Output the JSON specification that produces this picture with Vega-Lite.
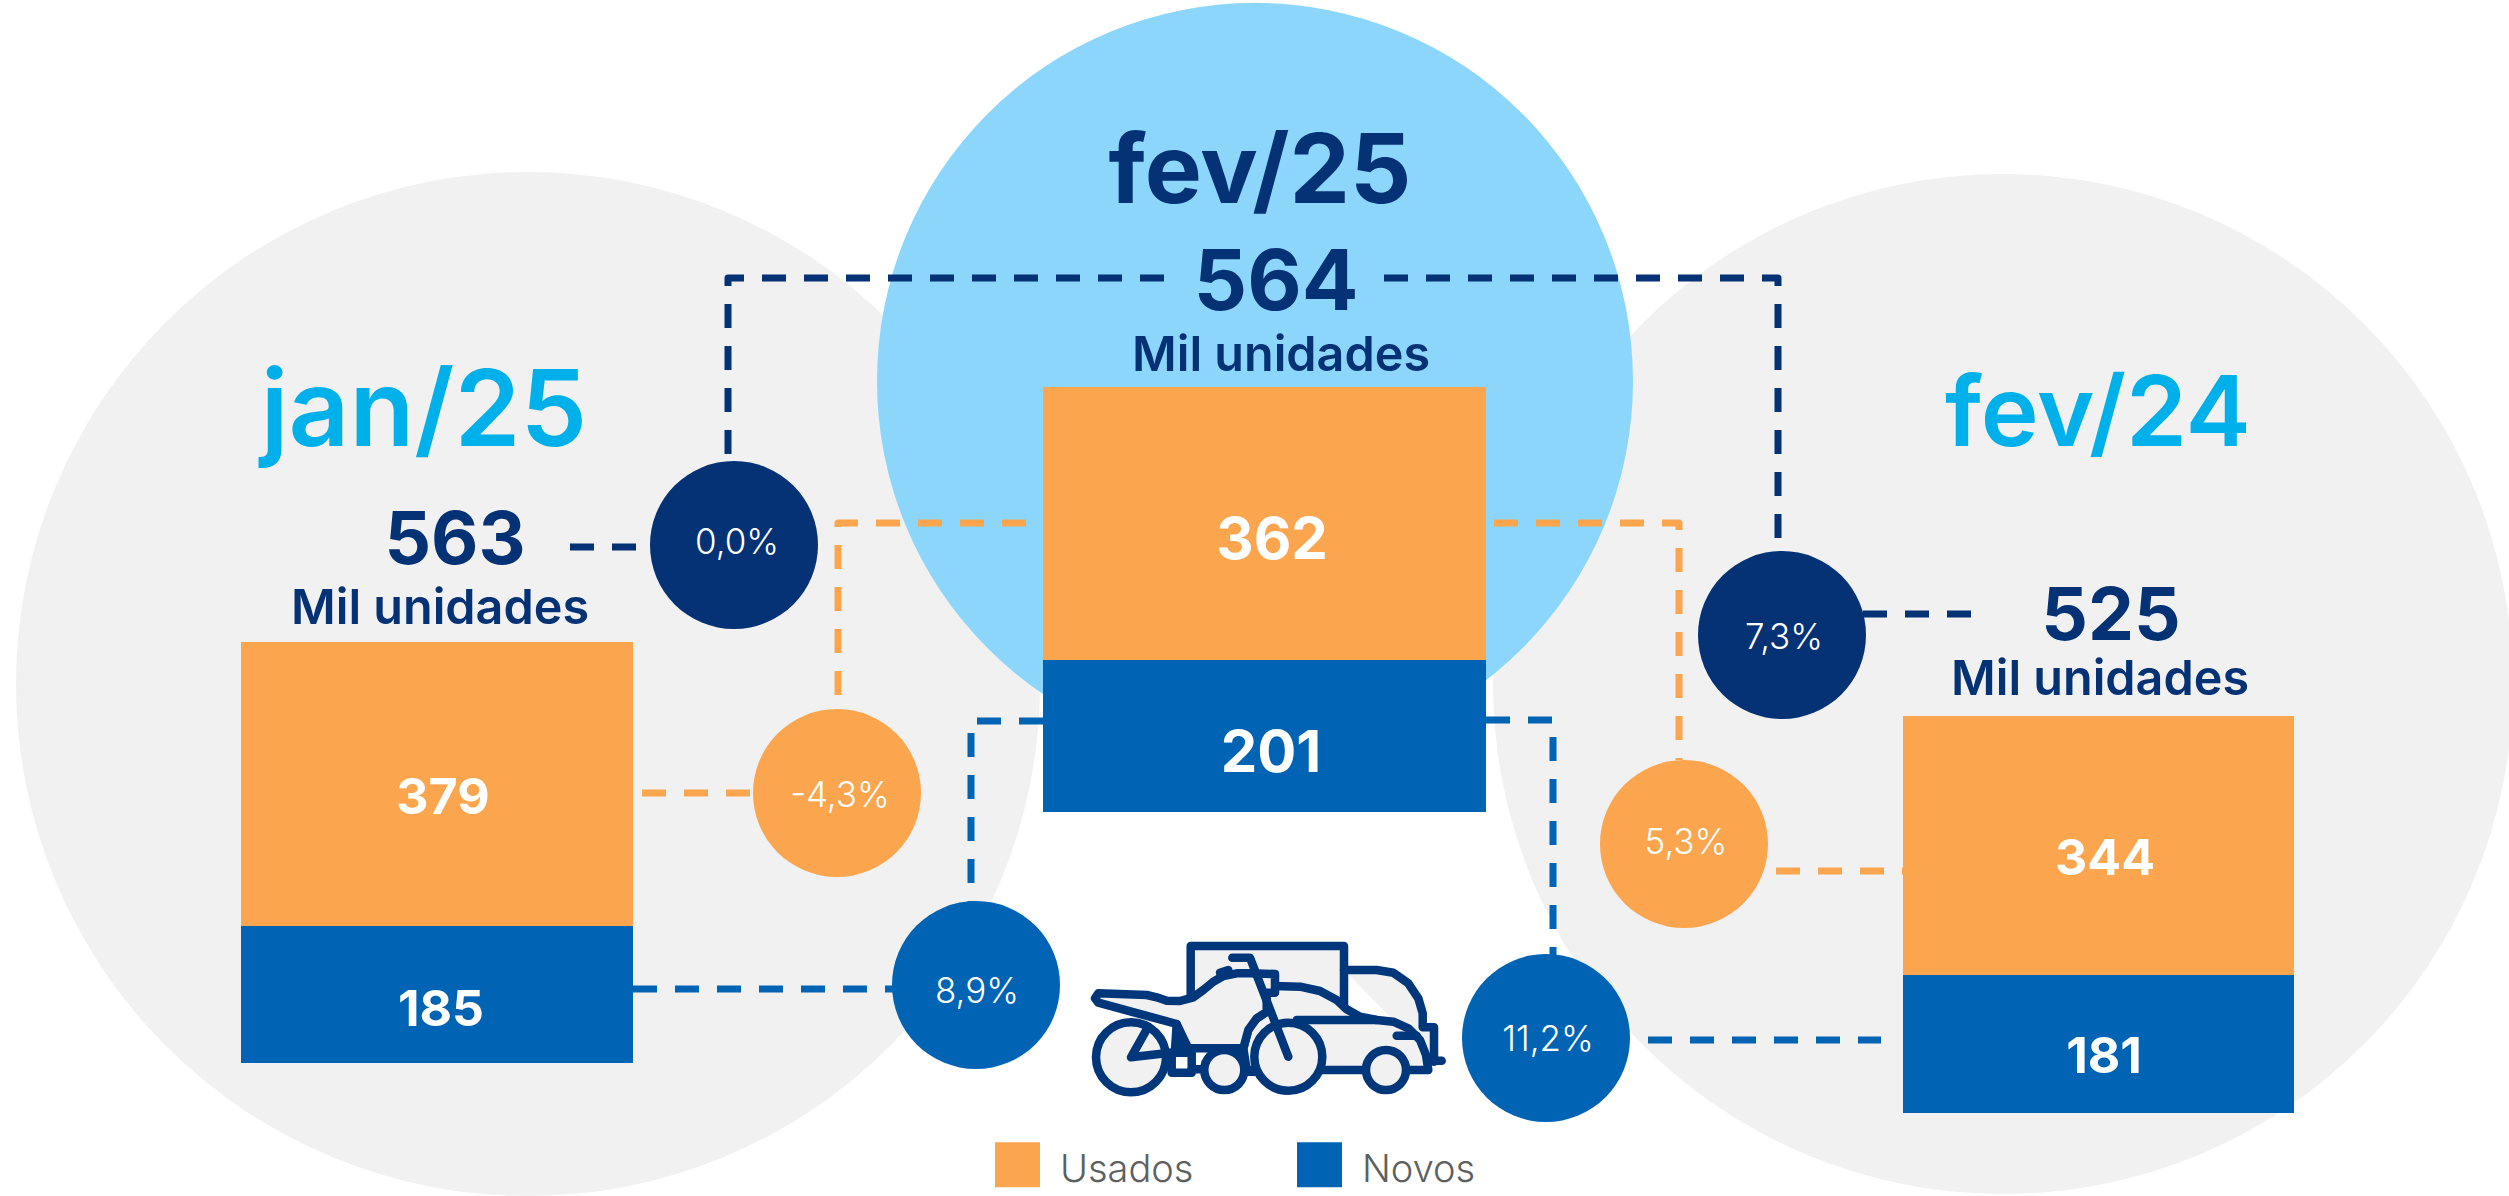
{"$schema":"https://vega.github.io/schema/vega-lite/v6.json","width":2509,"height":1196,"padding":0,"autosize":{"type":"none"},"background":"#ffffff","config":{"view":{"stroke":null}},
"datasets":{
"fundo":[{"nome":"jan/25","x":528,"y":684,"r":512,"cor":"base"},{"nome":"fev/24","x":2003,"y":684,"r":510,"cor":"base"},{"nome":"fev/25","x":1255,"y":381,"r":378,"cor":"destaque"}],
"ligacoes":[
{"id":"t1","tipo":"Total","o":1,"x":1164,"y":278},{"id":"t1","tipo":"Total","o":2,"x":728,"y":278},{"id":"t1","tipo":"Total","o":3,"x":728,"y":456},
{"id":"t2","tipo":"Total","o":1,"x":1384,"y":278},{"id":"t2","tipo":"Total","o":2,"x":1778,"y":278},{"id":"t2","tipo":"Total","o":3,"x":1778,"y":540},
{"id":"t3","tipo":"Total","o":1,"x":570,"y":547},{"id":"t3","tipo":"Total","o":2,"x":650,"y":547},
{"id":"t4","tipo":"Total","o":1,"x":1863,"y":614},{"id":"t4","tipo":"Total","o":2,"x":1971,"y":614},
{"id":"u1","tipo":"Usados","o":1,"x":1026,"y":523},{"id":"u1","tipo":"Usados","o":2,"x":838,"y":523},{"id":"u1","tipo":"Usados","o":3,"x":838,"y":695},
{"id":"u2","tipo":"Usados","o":1,"x":1494,"y":523},{"id":"u2","tipo":"Usados","o":2,"x":1679,"y":523},{"id":"u2","tipo":"Usados","o":3,"x":1679,"y":760},
{"id":"u3","tipo":"Usados","o":1,"x":642,"y":793},{"id":"u3","tipo":"Usados","o":2,"x":760,"y":793},
{"id":"u4","tipo":"Usados","o":1,"x":1776,"y":871},{"id":"u4","tipo":"Usados","o":2,"x":1903,"y":871},
{"id":"n1","tipo":"Novos","o":1,"x":1043,"y":721},{"id":"n1","tipo":"Novos","o":2,"x":971,"y":721},{"id":"n1","tipo":"Novos","o":3,"x":971,"y":905},
{"id":"n2","tipo":"Novos","o":1,"x":1486,"y":720},{"id":"n2","tipo":"Novos","o":2,"x":1553,"y":720},{"id":"n2","tipo":"Novos","o":3,"x":1553,"y":955},
{"id":"n3","tipo":"Novos","o":1,"x":633,"y":989},{"id":"n3","tipo":"Novos","o":2,"x":900,"y":989},
{"id":"n4","tipo":"Novos","o":1,"x":1648,"y":1040},{"id":"n4","tipo":"Novos","o":2,"x":1881,"y":1040}],
"variacoes":[
{"tipo":"Total","rotulo":"0,0%","x":734,"y":545,"r":84,"tx":737,"ty":554},
{"tipo":"Usados","rotulo":"-4,3%","x":837,"y":793,"r":84,"tx":840,"ty":807},
{"tipo":"Novos","rotulo":"8,9%","x":976,"y":985,"r":84,"tx":977,"ty":1003},
{"tipo":"Total","rotulo":"7,3%","x":1782,"y":635,"r":84,"tx":1784,"ty":649},
{"tipo":"Usados","rotulo":"5,3%","x":1684,"y":844,"r":84,"tx":1686,"ty":854},
{"tipo":"Novos","rotulo":"11,2%","x":1546,"y":1038,"r":84,"tx":1548,"ty":1051}],
"barras":[
{"mes":"jan/25","tipo":"Usados","valor":379,"x":241,"x2":633,"y":642,"y2":926,"tx":443,"ty":814,"fs":"p"},
{"mes":"jan/25","tipo":"Novos","valor":185,"x":241,"x2":633,"y":926,"y2":1063,"tx":441,"ty":1026,"fs":"p"},
{"mes":"fev/25","tipo":"Usados","valor":362,"x":1043,"x2":1486,"y":387,"y2":660,"tx":1272,"ty":559,"fs":"g"},
{"mes":"fev/25","tipo":"Novos","valor":201,"x":1043,"x2":1486,"y":660,"y2":812,"tx":1271,"ty":772,"fs":"g"},
{"mes":"fev/24","tipo":"Usados","valor":344,"x":1903,"x2":2294,"y":716,"y2":975,"tx":2105,"ty":875,"fs":"p"},
{"mes":"fev/24","tipo":"Novos","valor":181,"x":1903,"x2":2294,"y":975,"y2":1113,"tx":2104,"ty":1073,"fs":"p"}],
"meses":[{"t":"jan/25","x":424,"y":446,"c":"claro"},{"t":"fev/25","x":1260,"y":203,"c":"escuro"},{"t":"fev/24","x":2098,"y":446,"c":"medio"}],
"totais":[{"t":"563","x":455,"y":564,"u":440,"uy":624},{"t":"564","x":1276,"y":310,"u":1281,"uy":371},{"t":"525","x":2111,"y":640,"u":2100,"uy":695}],
"iconeA":[
{"f":"a1","o":1,"x":1190.7,"y":995},{"f":"a1","o":2,"x":1190.7,"y":946},{"f":"a1","o":3,"x":1344,"y":946},{"f":"a1","o":4,"x":1344,"y":1008.3},
{"f":"a2","o":1,"x":1344,"y":970},{"f":"a2","o":2,"x":1376.7,"y":970},{"f":"a2","o":3,"x":1393.3,"y":972.7},{"f":"a2","o":4,"x":1408.3,"y":983.3},{"f":"a2","o":5,"x":1418.3,"y":998.3},{"f":"a2","o":6,"x":1422.7,"y":1013.3},{"f":"a2","o":7,"x":1422.7,"y":1027.3},{"f":"a2","o":8,"x":1434,"y":1027.3},{"f":"a2","o":9,"x":1434,"y":1061.7},
{"f":"a3","o":1,"x":1273.3,"y":986},{"f":"a3","o":2,"x":1300,"y":986.7},{"f":"a3","o":3,"x":1320,"y":991},{"f":"a3","o":4,"x":1336.7,"y":1000},{"f":"a3","o":5,"x":1346.7,"y":1009.3},{"f":"a3","o":6,"x":1360,"y":1016.7},{"f":"a3","o":7,"x":1376.7,"y":1020},{"f":"a3","o":8,"x":1393.3,"y":1021.7},{"f":"a3","o":9,"x":1408.3,"y":1028.3},{"f":"a3","o":10,"x":1420,"y":1040},{"f":"a3","o":11,"x":1426,"y":1055},{"f":"a3","o":12,"x":1428.3,"y":1070},{"f":"a3","o":13,"x":1326.7,"y":1070},{"f":"a3","o":14,"x":1246.7,"y":1070},{"f":"a3","o":15,"x":1243.3,"y":1048.3},{"f":"a3","o":16,"x":1250,"y":1023.3},{"f":"a3","o":17,"x":1266.7,"y":1011.7},
{"f":"a4","o":1,"x":1098.3,"y":993.3},{"f":"a4","o":2,"x":1146.7,"y":995},{"f":"a4","o":3,"x":1156.7,"y":997.3},{"f":"a4","o":4,"x":1166.7,"y":1000.7},{"f":"a4","o":5,"x":1180,"y":1001},{"f":"a4","o":6,"x":1193.3,"y":997.3},{"f":"a4","o":7,"x":1203.3,"y":990},{"f":"a4","o":8,"x":1213.3,"y":981.7},{"f":"a4","o":9,"x":1223.3,"y":976},{"f":"a4","o":10,"x":1236.7,"y":973.3},{"f":"a4","o":11,"x":1250,"y":973.3},{"f":"a4","o":12,"x":1275,"y":974},{"f":"a4","o":13,"x":1275,"y":992.7},{"f":"a4","o":14,"x":1266.7,"y":992.7},{"f":"a4","o":15,"x":1266.7,"y":1011.7},{"f":"a4","o":16,"x":1256.7,"y":1018.3},{"f":"a4","o":17,"x":1248.3,"y":1030},{"f":"a4","o":18,"x":1243.3,"y":1048.3},{"f":"a4","o":19,"x":1188.3,"y":1048.3},{"f":"a4","o":20,"x":1176.7,"y":1024},{"f":"a4","o":21,"x":1098.3,"y":1002.7},{"f":"a4","o":22,"x":1095,"y":998.3},{"f":"a4","o":23,"x":1098.3,"y":993.3}],
"rodas":[{"x":1131,"y":1057.3,"r":35},{"x":1288.3,"y":1056.7,"r":34},{"x":1224.3,"y":1070,"r":20},{"x":1386,"y":1070,"r":20}],
"iconeB":[
{"f":"b1","o":1,"x":1232.3,"y":957.7},{"f":"b1","o":2,"x":1250,"y":957.7},{"f":"b1","o":3,"x":1288.3,"y":1056.7},
{"f":"b2","o":1,"x":1148.3,"y":1026.7},{"f":"b2","o":2,"x":1131,"y":1057.3},{"f":"b2","o":3,"x":1170,"y":1052.7},
{"f":"b3","o":1,"x":1176.7,"y":1024},{"f":"b3","o":2,"x":1175,"y":1050},{"f":"b3","o":3,"x":1184,"y":1050},{"f":"b3","o":4,"x":1180,"y":1034},
{"f":"b4","o":1,"x":1171.7,"y":1052.7},{"f":"b4","o":2,"x":1191.7,"y":1052.7},{"f":"b4","o":3,"x":1191.7,"y":1072.7},{"f":"b4","o":4,"x":1171.7,"y":1072.7},{"f":"b4","o":5,"x":1171.7,"y":1052.7},
{"f":"b5","o":1,"x":1191.7,"y":1069.3},{"f":"b5","o":2,"x":1203.3,"y":1069.3},
{"f":"b6","o":1,"x":1246.7,"y":1071.7},{"f":"b6","o":2,"x":1255,"y":1071.7},
{"f":"b7","o":1,"x":1296.7,"y":1020},{"f":"b7","o":2,"x":1376.7,"y":1020},
{"f":"b8","o":1,"x":1396.7,"y":1035.7},{"f":"b8","o":2,"x":1416.7,"y":1035.7},
{"f":"b9","o":1,"x":1434,"y":1060.7},{"f":"b9","o":2,"x":1441.7,"y":1060.7},
{"f":"b10","o":1,"x":1220,"y":972.7},{"f":"b10","o":2,"x":1228.3,"y":970}]
},
"layer":[
{"data":{"name":"fundo"},"mark":{"type":"point","shape":"circle","filled":true,"opacity":1},
 "encoding":{"x":{"field":"x","type":"quantitative","scale":{"domain":[0,2509],"nice":false,"zero":false},"axis":null},
 "y":{"field":"y","type":"quantitative","scale":{"domain":[1196,0],"nice":false,"zero":false},"axis":null},
 "size":{"field":"r","type":"quantitative","scale":{"type":"pow","exponent":2,"domain":[0,512],"range":[0,1048576]},"legend":null},
 "order":{"field":"cor","sort":"ascending"},
 "fill":{"field":"cor","type":"nominal","scale":{"domain":["base","destaque"],"range":["#f1f1f1","#8dd6fb"]},"legend":null}}},
{"data":{"name":"ligacoes"},"mark":{"type":"line","strokeWidth":7,"strokeDash":[24,18],"strokeCap":"butt","strokeJoin":"round"},
 "encoding":{"x":{"field":"x","type":"quantitative"},"y":{"field":"y","type":"quantitative"},"detail":{"field":"id"},"order":{"field":"o"},
 "color":{"field":"tipo","type":"nominal","scale":{"domain":["Usados","Novos","Total"],"range":["#fba54e","#0063b4","#053175"]}}}},
{"data":{"name":"variacoes"},"mark":{"type":"point","shape":"circle","filled":true,"opacity":1},
 "encoding":{"x":{"field":"x","type":"quantitative"},"y":{"field":"y","type":"quantitative"},
 "size":{"field":"r","type":"quantitative","legend":null},
 "color":{"field":"tipo","type":"nominal"}}},
{"data":{"name":"barras"},"mark":{"type":"rect"},
 "encoding":{"x":{"field":"x","type":"quantitative"},"x2":{"field":"x2"},"y":{"field":"y","type":"quantitative"},"y2":{"field":"y2"},
 "color":{"field":"tipo","type":"nominal","legend":{"values":["Usados","Novos"],"orient":"none","legendX":995,"legendY":1142,"direction":"horizontal","title":null,"symbolType":"square","symbolSize":2025,"symbolStrokeWidth":0,"symbolOpacity":1,"labelFontSize":38,"labelFont":"Inter","labelFontWeight":300,"labelColor":"#5c6160","labelOffset":20,"columnPadding":103,"columns":2,"padding":0,"labelLimit":400,"encoding":{"labels":{"dy":{"value":6}}}}}}},
{"data":{"name":"iconeA"},"mark":{"type":"line","fill":"#f1f1f1","stroke":"#00377b","strokeWidth":8.5,"strokeJoin":"round","strokeCap":"round"},
 "encoding":{"x":{"field":"x","type":"quantitative"},"y":{"field":"y","type":"quantitative"},"detail":{"field":"f"},"order":{"field":"o"}}},
{"data":{"name":"rodas"},"mark":{"type":"point","shape":"circle","filled":true,"fill":"#f1f1f1","stroke":"#00377b","strokeWidth":8.5,"opacity":1},
 "encoding":{"x":{"field":"x","type":"quantitative"},"y":{"field":"y","type":"quantitative"},"size":{"field":"r","type":"quantitative","legend":null}}},
{"data":{"name":"iconeB"},"mark":{"type":"line","stroke":"#00377b","strokeWidth":8.5,"strokeJoin":"round","strokeCap":"round"},
 "encoding":{"x":{"field":"x","type":"quantitative"},"y":{"field":"y","type":"quantitative"},"detail":{"field":"f"},"order":{"field":"o"}}},
{"data":{"name":"meses"},"transform":[{"filter":"datum.c==='claro'"}],"mark":{"type":"text","font":"Inter","fontSize":106,"fontWeight":600,"color":"#00b0ea","align":"center","baseline":"alphabetic"},
 "encoding":{"x":{"field":"x","type":"quantitative"},"y":{"field":"y","type":"quantitative"},"text":{"field":"t"}}},
{"data":{"name":"meses"},"transform":[{"filter":"datum.c==='medio'"}],"mark":{"type":"text","font":"Inter","fontSize":98,"fontWeight":600,"color":"#00b0ea","align":"center","baseline":"alphabetic"},
 "encoding":{"x":{"field":"x","type":"quantitative"},"y":{"field":"y","type":"quantitative"},"text":{"field":"t"}}},
{"data":{"name":"meses"},"transform":[{"filter":"datum.c==='escuro'"}],"mark":{"type":"text","font":"Inter","fontSize":96,"fontWeight":700,"color":"#053175","align":"center","baseline":"alphabetic"},
 "encoding":{"x":{"field":"x","type":"quantitative"},"y":{"field":"y","type":"quantitative"},"text":{"field":"t"}}},
{"data":{"name":"totais"},"transform":[{"filter":"datum.t==='564'"}],"mark":{"type":"text","font":"Inter","fontSize":84,"fontWeight":700,"color":"#053175","align":"center","baseline":"alphabetic"},
 "encoding":{"x":{"field":"x","type":"quantitative"},"y":{"field":"y","type":"quantitative"},"text":{"field":"t"}}},
{"data":{"name":"totais"},"transform":[{"filter":"datum.t!=='564'"}],"mark":{"type":"text","font":"Inter","fontSize":73,"fontWeight":700,"color":"#053175","align":"center","baseline":"alphabetic"},
 "encoding":{"x":{"field":"x","type":"quantitative"},"y":{"field":"y","type":"quantitative"},"text":{"field":"t"}}},
{"data":{"name":"totais"},"mark":{"type":"text","font":"Inter","fontSize":48.5,"fontWeight":600,"color":"#053175","align":"center","baseline":"alphabetic"},
 "encoding":{"x":{"field":"u","type":"quantitative"},"y":{"field":"uy","type":"quantitative"},"text":{"value":"Mil unidades"}}},
{"data":{"name":"barras"},"transform":[{"filter":"datum.fs==='p'"}],"mark":{"type":"text","font":"Inter","fontSize":50,"fontWeight":700,"color":"#ffffff","align":"center","baseline":"alphabetic"},
 "encoding":{"x":{"field":"tx","type":"quantitative"},"y":{"field":"ty","type":"quantitative"},"text":{"field":"valor","type":"quantitative"}}},
{"data":{"name":"barras"},"transform":[{"filter":"datum.fs==='g'"}],"mark":{"type":"text","font":"Inter","fontSize":58,"fontWeight":700,"color":"#ffffff","align":"center","baseline":"alphabetic"},
 "encoding":{"x":{"field":"tx","type":"quantitative"},"y":{"field":"ty","type":"quantitative"},"text":{"field":"valor","type":"quantitative"}}},
{"data":{"name":"variacoes"},"mark":{"type":"text","font":"Inter","fontSize":35,"fontWeight":300,"color":"#ffffff","align":"center","baseline":"alphabetic"},
 "encoding":{"x":{"field":"tx","type":"quantitative"},"y":{"field":"ty","type":"quantitative"},"text":{"field":"rotulo"}}}
],
"resolve":{"scale":{"color":"shared","fill":"independent"}}}
